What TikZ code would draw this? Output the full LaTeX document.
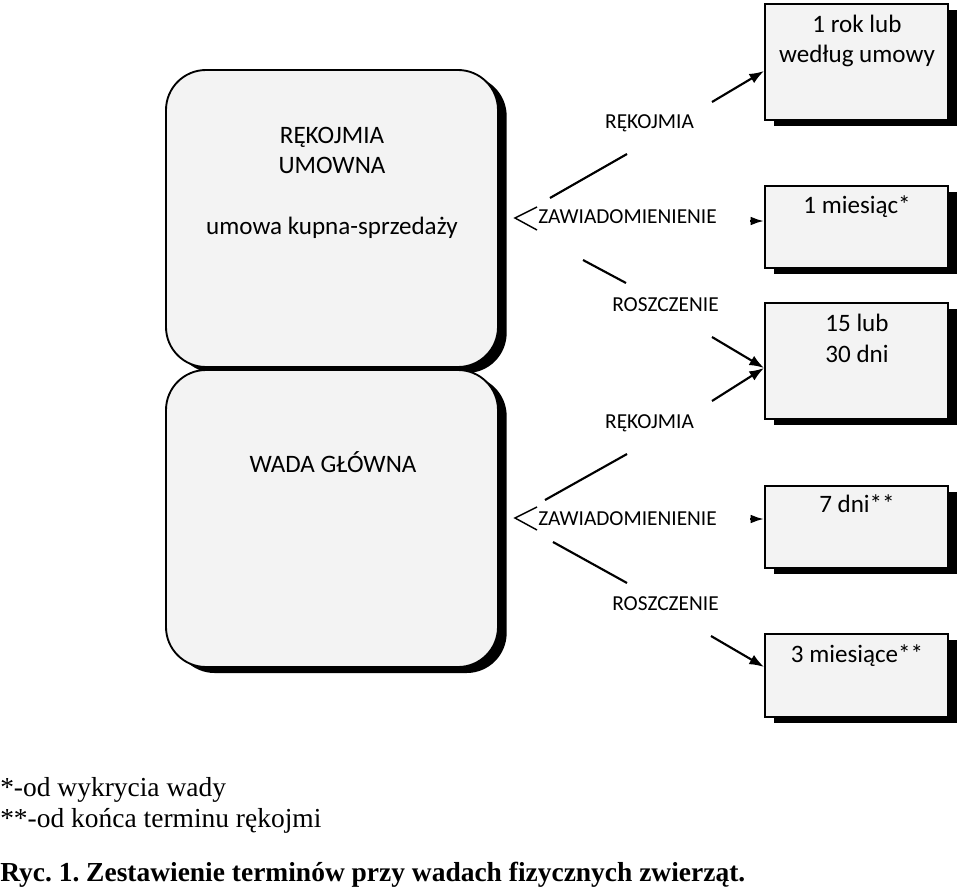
\documentclass[tikz,border=0pt]{standalone}
\usepackage{fontspec}
\setmainfont{Carlito}
\newfontfamily\capfont{Liberation Serif}
\usetikzlibrary{arrows.meta,shadows,fit,calc}
\definecolor{boxgray}{HTML}{F3F3F3}
\frenchspacing
\begin{document}
\begin{tikzpicture}[x=0.75pt,y=-0.75pt,
  box/.style={draw=black, line width=1.4pt, fill=boxgray, inner sep=0pt,
    drop shadow={shadow xshift=6.5pt, shadow yshift=-4.5pt, opacity=1, fill=black}},
  rbox/.style={box, rounded corners=30pt},
  lbl/.style={font=\fontsize{16}{19}\selectfont, anchor=base, inner sep=0pt},
  btxt/.style={font=\fontsize{18.8}{22}\selectfont, anchor=base, inner sep=0pt},
  foot/.style={font=\capfont\fontsize{20.6}{24}\selectfont, anchor=base west, inner sep=0pt},
  arr/.style={line width=1.6pt, -{Latex[length=11pt,width=8pt]}},
  sarr/.style={line width=1.6pt, -{Latex[length=10pt,width=6.5pt]}},
  ln/.style={line width=1.6pt},
  opn/.style={line width=1.1pt},
]
\useasboundingbox (0,0) rectangle (960,889);

% big rounded boxes
\node[rbox, fit={(166,70) (498,367)}] (top) {};
\node[rbox, fit={(166,370) (498,667)}] (bot) {};
\node[btxt] (t1) at (332,143) {RĘKOJMIA};
\node[btxt] (t2) at (332,173) {UMOWNA};
\node[btxt] (t3) at (332,234) {umowa kupna-sprzedaży};
\node[btxt] (t4) at (333,472) {WADA GŁÓWNA};

% right boxes
\node[box, fit={(765,4) (948,120)}] (b1) {};
\node[box, fit={(765,186) (948,268)}] (b2) {};
\node[box, fit={(765,303) (948,419)}] (b3) {};
\node[box, fit={(765,486) (948,568)}] (b4) {};
\node[box, fit={(765,634) (948,717)}] (b5) {};
\node[btxt] (b1a) at (857,32) {1 rok lub};
\node[btxt] (b1b) at (857,62) {według umowy};
\node[btxt] (b2a) at (857,213) {1 miesiąc*};
\node[btxt] (b3a) at (857,331) {15 lub};
\node[btxt] (b3b) at (857,362) {30 dni};
\node[btxt] (b4a) at (857,512) {7 dni**};
\node[btxt] (b5a) at (857,662) {3 miesiące**};

% labels, upper group
\node[lbl] (rk1) at (649.5,128) {RĘKOJMIA};
\node[lbl] (za1) at (627.5,223) {ZAWIADOMIENIENIE};
\node[lbl] (ro1) at (665.5,311) {ROSZCZENIE};
% labels, lower group
\node[lbl] (rk2) at (649.5,428) {RĘKOJMIA};
\node[lbl] (za2) at (627.5,525) {ZAWIADOMIENIENIE};
\node[lbl] (ro2) at (665.5,610) {ROSZCZENIE};

% branch lines, upper group
\coordinate (u1a) at (550,198); \coordinate (u1b) at (627,154);
\coordinate (u2a) at (583,260); \coordinate (u2b) at (626,283);
\draw[ln] (u1a) -- (u1b);
\draw[ln] (u2a) -- (u2b);
\coordinate (ut) at (515,218);
\draw[opn] ($(ut)+(22,-11)$) -- (ut) -- ($(ut)+(22,12)$);
% branch lines, lower group
\coordinate (l1a) at (545,500); \coordinate (l1b) at (627,454);
\coordinate (l2a) at (553,542); \coordinate (l2b) at (627,583);
\draw[ln] (l1a) -- (l1b);
\draw[ln] (l2a) -- (l2b);
\coordinate (lt) at (515,518);
\draw[opn] ($(lt)+(22,-11)$) -- (lt) -- ($(lt)+(22,12)$);

% arrows to boxes
\coordinate (a1) at (712,102);
\coordinate (a2) at (750,221);
\coordinate (a3) at (712,337);
\coordinate (a4) at (712,401);
\coordinate (a5) at (750,519);
\coordinate (a6) at (711,636);
\draw[arr] (a1) -- ([yshift=-6.75pt]b1.west);
\draw[sarr] (a2) -- ([yshift=4.5pt]b2.west);
\draw[arr] (a3) -- ([yshift=-5.25pt]b3.west);
\draw[arr] (a4) -- ([yshift=-5.25pt]b3.west);
\draw[sarr] (a5) -- ([yshift=6pt]b4.west);
\draw[arr] (a6) -- ([yshift=6.4pt]b5.west);

% footnotes and caption
\node[foot] (f1) at (0,796) {*-od wykrycia wady};
\node[foot] (f2) at (0,827) {**-od końca terminu rękojmi};
\node[foot, font=\capfont\bfseries\fontsize{20.6}{24}\selectfont] (cap) at (0,881) {Ryc. 1. Zestawienie terminów przy wadach fizycznych zwierząt.};
\end{tikzpicture}
\end{document}
